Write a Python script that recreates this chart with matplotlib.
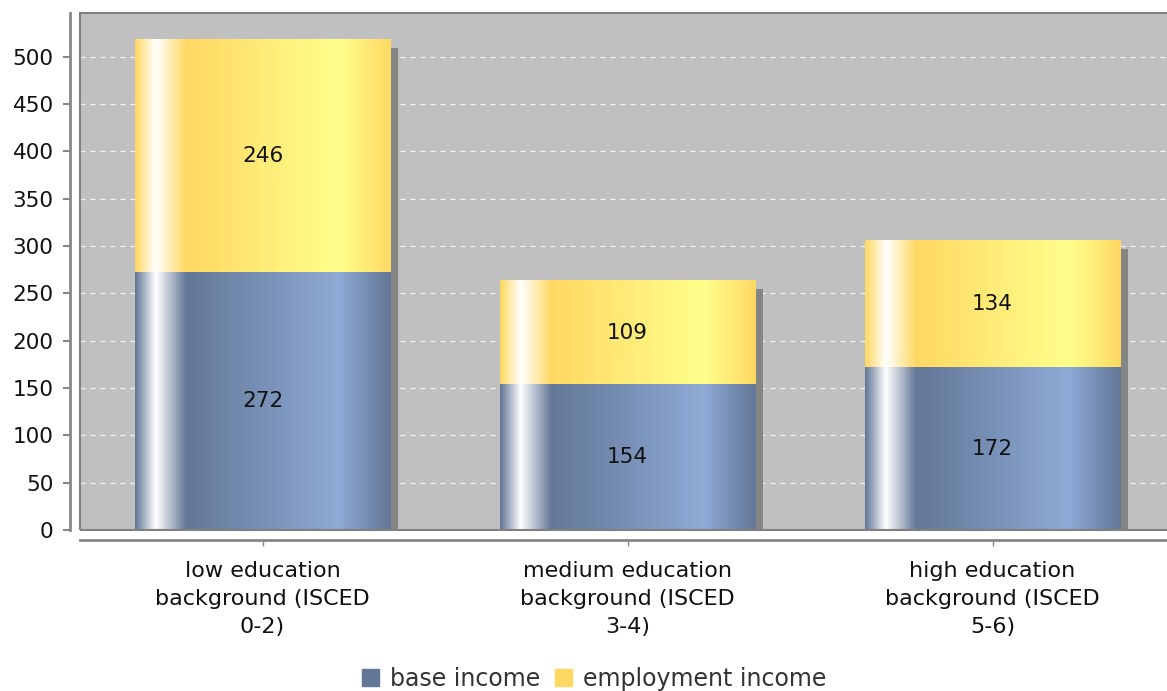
import matplotlib
matplotlib.use("Agg")
import matplotlib.pyplot as plt
import numpy as np
from matplotlib.patches import Rectangle
from matplotlib.colors import to_rgb

categories = ["low education\nbackground (ISCED\n0-2)",
              "medium education\nbackground (ISCED\n3-4)",
              "high education\nbackground (ISCED\n5-6)"]
base_income = [272, 154, 172]
employment_income = [246, 109, 134]
series_names = ["base income", "employment income"]
yticks = list(range(0, 501, 50))

BLUE_DARK, BLUE_LIGHT = "#637797", "#8eaad6"
YEL_DARK, YEL_LIGHT = "#ffd863", "#ffff8c"
FS = 15.5


def gradient_row(dark, light, n=256):
    # JFreeChart-ish bar painter: highlight near left, dark -> light towards right, darker edge
    d, l, w = np.array(to_rgb(dark)), np.array(to_rgb(light)), np.ones(3)
    t = np.linspace(0, 1, n)
    out = np.zeros((n, 3))
    for i, x in enumerate(t):
        if x < 0.08:
            out[i] = d + (w - d) * (x / 0.08)
        elif x < 0.20:
            out[i] = w + (d - w) * ((x - 0.08) / 0.12)
        elif x < 0.80:
            out[i] = d + (l - d) * ((x - 0.20) / 0.60)
        else:
            out[i] = l + (d - l) * ((x - 0.80) / 0.20)
    return out[None, :, :]


fig = plt.figure(figsize=(11.67, 6.91), dpi=100)
ax = fig.add_axes([80 / 1167, 1 - 530 / 691, 1095 / 1167, 517 / 691])
ax.set_facecolor("#c0c0c0")
x = np.arange(len(categories))
width = 0.7

b1 = ax.bar(x, base_income, width, color=BLUE_DARK, label=series_names[0], zorder=3)
b2 = ax.bar(x, employment_income, width, bottom=base_income, color=YEL_DARK,
            label=series_names[1], zorder=3)

# shadows
tot = np.array(base_income) + np.array(employment_income)
for p, t in zip(b1, tot):
    ax.add_patch(Rectangle((p.get_x() + 0.022, 0), p.get_width(), t - 9,
                           color="#858585", zorder=2, lw=0))

for bars, dark, light in [(b1, BLUE_DARK, BLUE_LIGHT), (b2, YEL_DARK, YEL_LIGHT)]:
    img = gradient_row(dark, light)
    for p in bars:
        x0, y0 = p.get_x(), p.get_y()
        ax.imshow(img, extent=(x0, x0 + p.get_width(), y0, y0 + p.get_height()),
                  aspect="auto", zorder=4, interpolation="bilinear")

for bars, vals in [(b1, base_income), (b2, employment_income)]:
    for p, v in zip(bars, vals):
        ax.text(p.get_x() + p.get_width() / 2, p.get_y() + p.get_height() / 2, str(v),
                ha="center", va="center", fontsize=FS, color="#111", zorder=5)

ax.set_xlim(-0.5, 2.5)
ax.set_ylim(0, 546)
ax.set_yticks(yticks)
ax.set_xticks(x)
ax.set_xticklabels([""] * len(categories))
ax.tick_params(axis="y", labelsize=FS, labelcolor="#111", color="#888", length=5, width=1.5, pad=7)
ax.tick_params(axis="x", color="#888", length=4, width=1)
# category labels as text so the line spacing sticks
for xi, lab in zip(x, categories):
    ax.text(xi, -0.059, lab, transform=ax.get_xaxis_transform(), ha="center", va="top",
            fontsize=16, color="#111", linespacing=1.52, multialignment="center")
ax.yaxis.grid(True, color="white", linestyle=(0, (4, 4)), linewidth=0.9, alpha=0.85)
ax.set_axisbelow(True)

for s in ["top", "right"]:
    ax.spines[s].set_visible(False)
ax.spines["left"].set_position(("outward", 7))
ax.spines["bottom"].set_position(("outward", 7))
ax.spines["left"].set_color("#888")
ax.spines["bottom"].set_color("#888")
ax.spines["left"].set_linewidth(2)
ax.spines["bottom"].set_linewidth(2)
ax.add_patch(Rectangle((0, 0), 1, 1, transform=ax.transAxes, fill=False,
                       edgecolor="#808080", lw=1.5, zorder=6, clip_on=False))

handles = [Rectangle((0, 0), 1, 1, color=BLUE_DARK), Rectangle((0, 0), 1, 1, color=YEL_DARK)]
fig.legend(handles, series_names, loc="center", bbox_to_anchor=(594 / 1167, 1 - 679 / 691),
           ncol=2, frameon=False, fontsize=17, handlelength=0.75, handleheight=0.75,
           handletextpad=0.45, columnspacing=0.6, labelcolor="#333")

fig.savefig("out.png", dpi=100)
